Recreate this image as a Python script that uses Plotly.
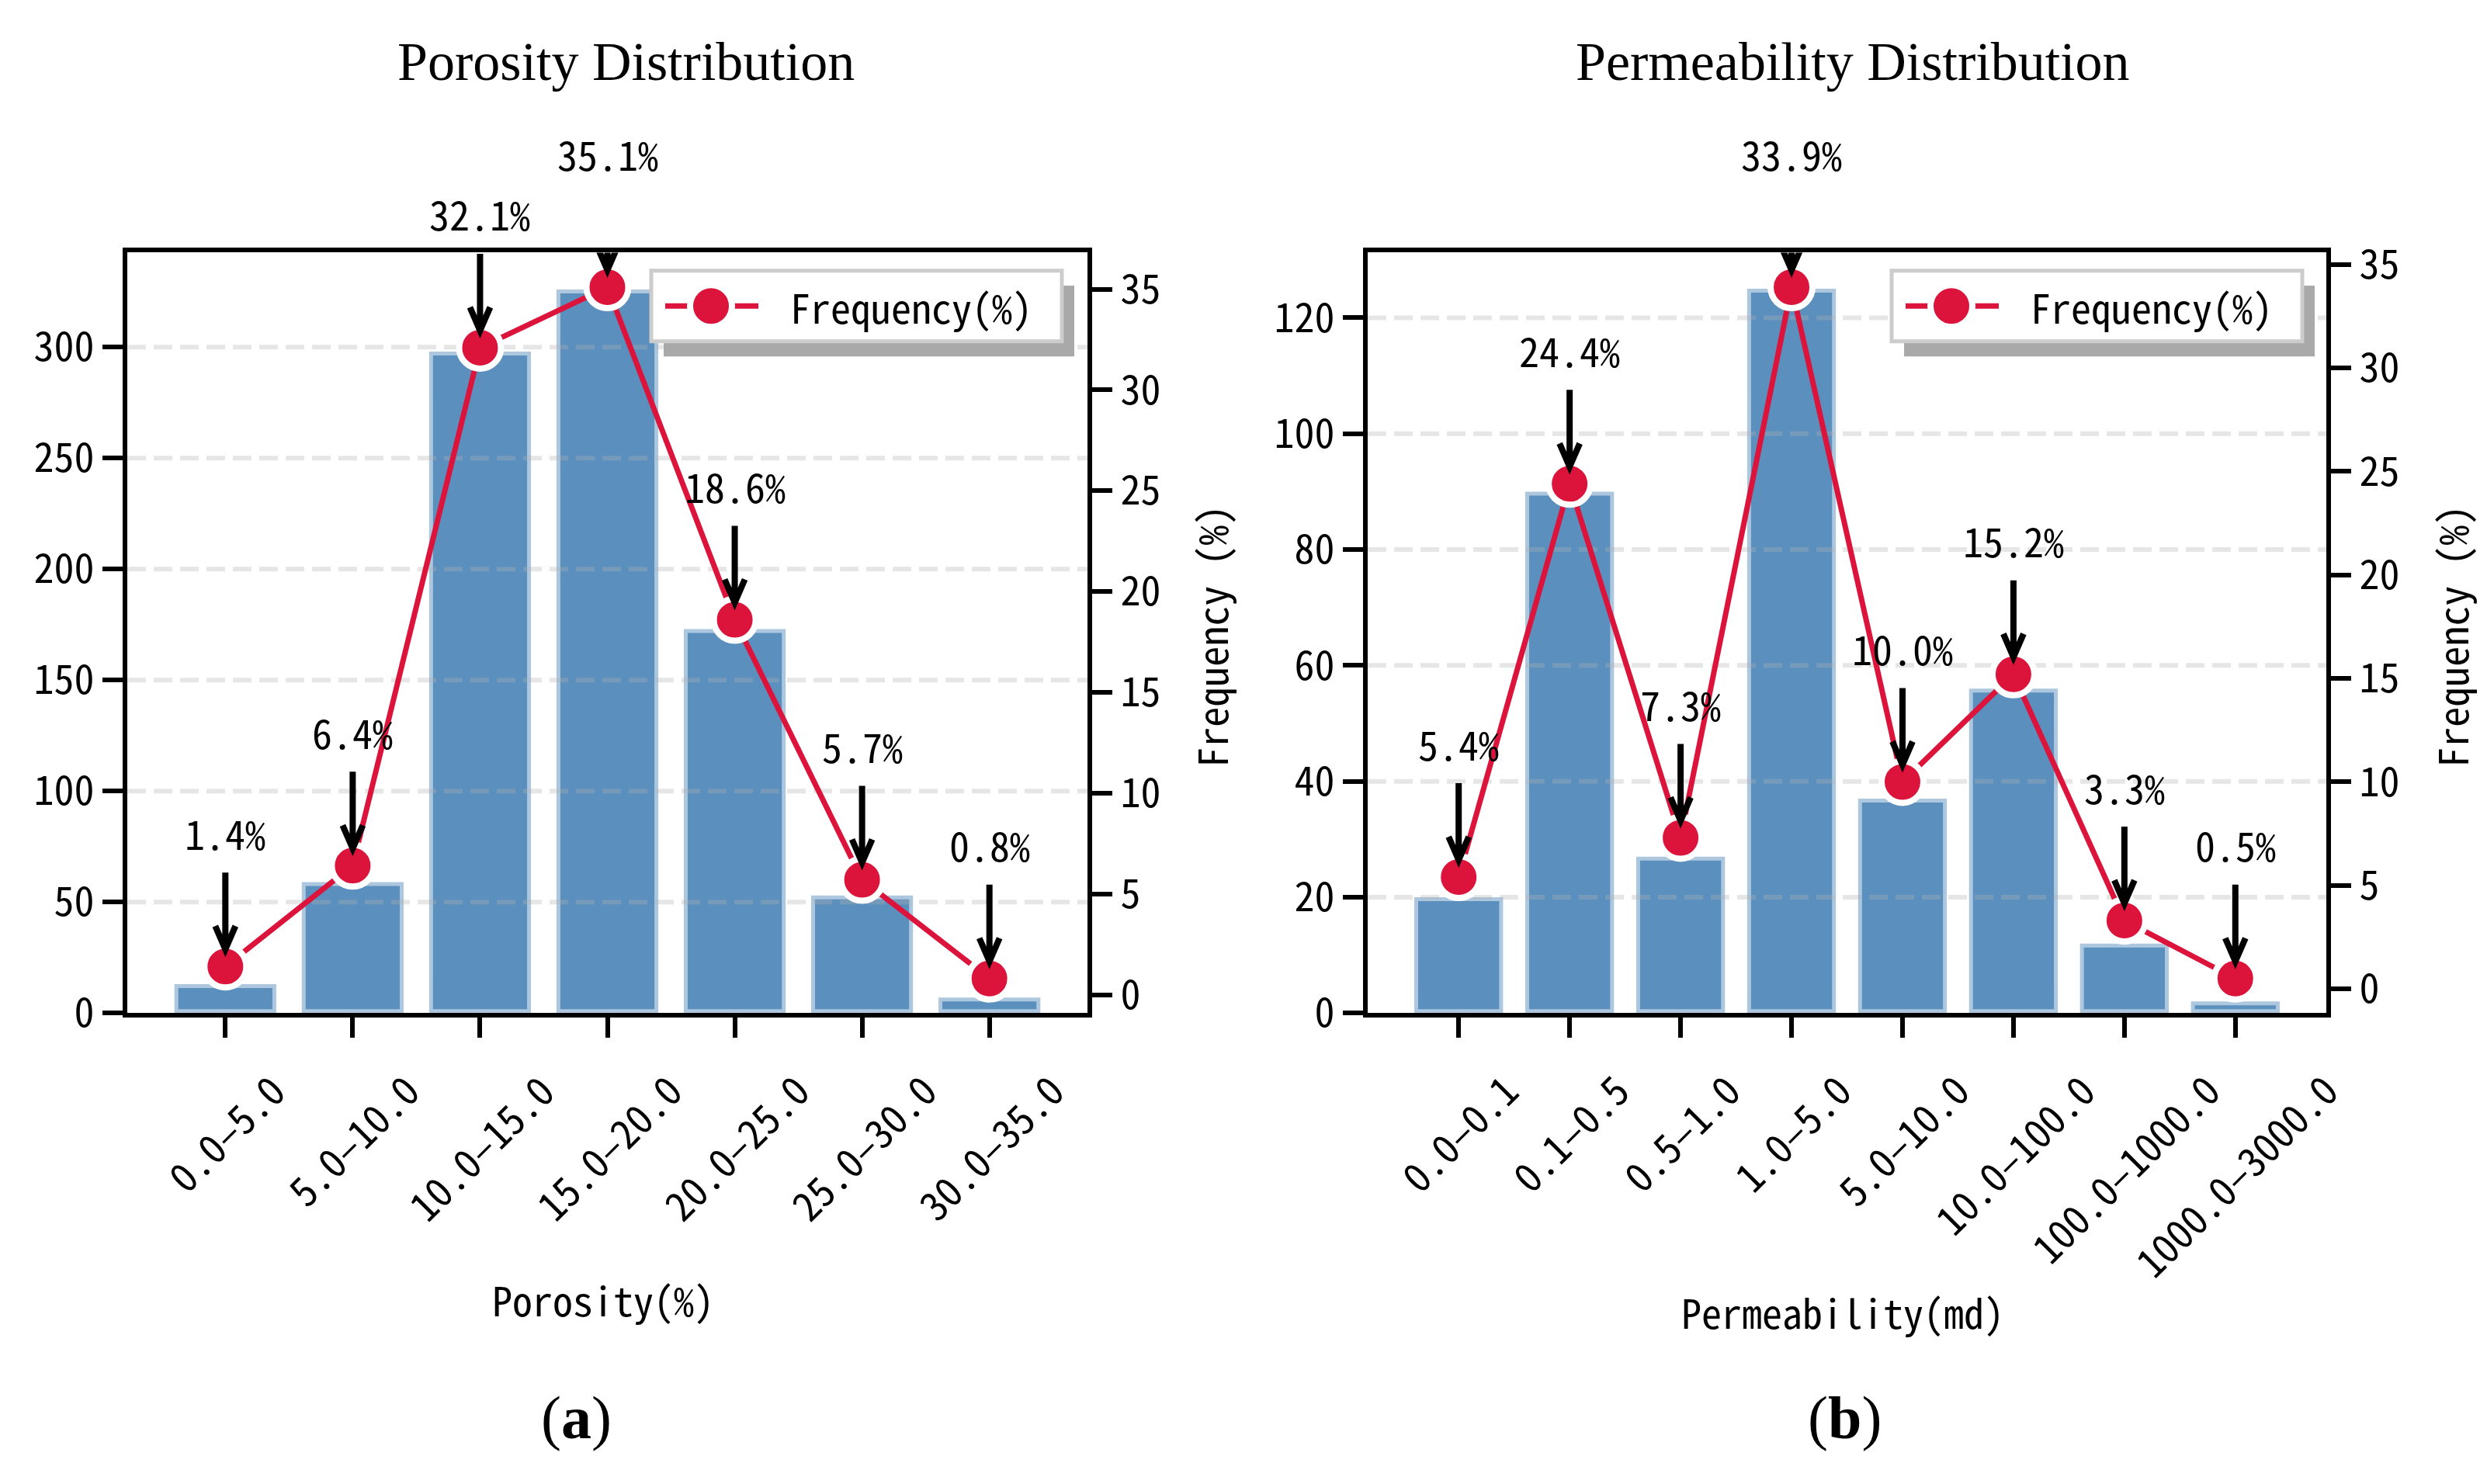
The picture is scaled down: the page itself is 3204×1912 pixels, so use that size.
import plotly.graph_objects as go

W, H = 3204, 1912

# ---- data ----
poro_bins = ["0.0–5.0", "5.0–10.0", "10.0–15.0", "15.0–20.0", "20.0–25.0", "25.0–30.0", "30.0–35.0"]
poro_count = [13, 59, 298, 326, 173, 53, 7]
poro_pct = [1.4, 6.4, 32.1, 35.1, 18.6, 5.7, 0.8]

perm_bins = ["0.0–0.1", "0.1–0.5", "0.5–1.0", "1.0–5.0", "5.0–10.0",
             "10.0–100.0", "100.0–1000.0", "1000.0–3000.0"]
perm_count = [20, 90, 27, 125, 37, 56, 12, 2]
perm_pct = [5.4, 24.4, 7.3, 33.9, 10.0, 15.2, 3.3, 0.5]

poro_count_ticks = [0, 50, 100, 150, 200, 250, 300]
perm_count_ticks = [0, 20, 40, 60, 80, 100, 120]
pct_ticks = [0, 5, 10, 15, 20, 25, 30, 35]

MONO = "Noto Sans Mono CJK SC, DejaVu Sans Mono, monospace"
SERIF = "Liberation Serif, Times New Roman, serif"
BAR = "#5b8fbe"
RED = "#dc143c"
FS = 52


def px(x):
    return x / W


def py(y):
    return 1 - y / H


panels = [
    dict(x="x", y="y", y2="y2", bins=poro_bins, count=poro_count, pct=poro_pct,
         cticks=poro_count_ticks, left=164, right=1401, xr=[-0.77, 6.77],
         yr=[0, 342.6], y2r=[-0.915, 36.815], shift=0,
         title="Porosity Distribution", tx=806, xlabel="Porosity(%)", xl=(777, 1700),
         tag="(<b>a</b>)", tagx=742),
    dict(x="x2", y="y3", y2="y4", bins=perm_bins, count=perm_count, pct=perm_pct,
         cticks=perm_count_ticks, left=1762, right=2997, xr=[-0.82, 7.82],
         yr=[0, 131.25], y2r=[-1.17, 35.57], shift=1598,
         title="Permeability Distribution", tx=2387, xlabel="Permeability(md)", xl=(2374, 1716),
         tag="(<b>b</b>)", tagx=2376),
]

TOP, BOTTOM = 309, 1320

fig = go.Figure()
annotations = []
shapes = []
layout = {}

axis_style = dict(showline=True, linecolor="black", linewidth=6, ticks="outside",
                  ticklen=26, tickwidth=6, tickcolor="black", showgrid=False,
                  zeroline=False, fixedrange=True,
                  tickfont=dict(family=MONO, size=FS, color="black"))

for k, p in enumerate(panels):
    n = len(p["bins"])
    idx = list(range(n))
    xa = "xaxis" if p["x"] == "x" else "xaxis" + p["x"][1:]
    ya = "yaxis" if p["y"] == "y" else "yaxis" + p["y"][1:]
    y2a = "yaxis" + p["y2"][1:]

    # bars (counts)
    fig.add_trace(go.Bar(x=idx, y=p["count"], width=0.8, xaxis=p["x"], yaxis=p["y"],
                         marker=dict(color=BAR, line=dict(color="rgba(255,255,255,0.5)", width=10)),
                         showlegend=False, hoverinfo="skip"))

    # dashed grid on top of the bars
    gx, gy = [], []
    for v in p["cticks"][1:]:
        gx += [p["xr"][0], p["xr"][1], None]
        gy += [v, v, None]
    fig.add_trace(go.Scatter(x=gx, y=gy, xaxis=p["x"], yaxis=p["y"], mode="lines",
                             line=dict(color="rgba(176,176,176,0.32)", width=6, dash="24px,10px"),
                             showlegend=False, hoverinfo="skip"))

    # frequency line
    fig.add_trace(go.Scatter(x=idx, y=p["pct"], xaxis=p["x"], yaxis=p["y2"],
                             mode="lines+markers", name="Frequency(%)",
                             line=dict(color=RED, width=7),
                             marker=dict(color=RED, size=54, line=dict(color="white", width=8)),
                             showlegend=False, hoverinfo="skip"))

    dom_x = [px(p["left"]), px(p["right"])]
    dom_y = [py(BOTTOM), py(TOP)]
    layout[xa] = dict(axis_style, domain=dom_x, range=p["xr"], anchor=p["y"],
                      tickvals=idx, showticklabels=False, mirror=True)
    layout[ya] = dict(axis_style, domain=dom_y, range=p["yr"], anchor=p["x"],
                      tickvals=p["cticks"])
    layout[y2a] = dict(axis_style, range=p["y2r"], anchor=p["x"], overlaying=p["y"],
                       side="right", tickvals=pct_ticks)

    # rotated category labels, centred on the ticks
    for i, lab in enumerate(p["bins"]):
        annotations.append(dict(x=i, xref=p["x"], y=py(1381), yref="paper", text=lab,
                                textangle=-45, xanchor="center", yanchor="top",
                                showarrow=False, font=dict(family=MONO, size=FS, color="black")))

    # percentage labels and arrows
    for i, v in enumerate(p["pct"]):
        annotations.append(dict(x=i, xref=p["x"], y=v, yref=p["y2"], text=f"{v:.1f}%",
                                yshift=173, xanchor="center", yanchor="middle",
                                showarrow=False, font=dict(family=MONO, size=FS, color="black")))
        shapes.append(dict(type="path", xref=p["x"], yref=p["y2"],
                           xsizemode="pixel", ysizemode="pixel", xanchor=i, yanchor=v,
                           path="M 0,121 L 0,23 M -13,52 L 0,22 L 13,52",
                           line=dict(color="black", width=8), layer="above"))

    # titles / axis labels
    annotations.append(dict(x=px(p["tx"]), y=py(55), xref="paper", yref="paper",
                            text=p["title"], showarrow=False, xanchor="center", yanchor="middle",
                            font=dict(family=SERIF, size=70, color="black")))
    annotations.append(dict(x=px(p["xl"][0]), y=py(p["xl"][1]), xref="paper", yref="paper",
                            text=p["xlabel"], showarrow=False, xanchor="center", yanchor="middle",
                            font=dict(family=MONO, size=FS, color="black")))
    annotations.append(dict(x=px(1560 + p["shift"]), y=py(819), xref="paper", yref="paper",
                            text="Frequency (%)", textangle=-90, showarrow=False,
                            xanchor="center", yanchor="middle",
                            font=dict(family=MONO, size=FS, color="black")))
    annotations.append(dict(x=px(p["tagx"]), y=py(1858), xref="paper", yref="paper",
                            text=p["tag"], showarrow=False, xanchor="center", yanchor="middle",
                            font=dict(family=SERIF, size=78, color="black")))

    # legend box with drop shadow
    s = p["shift"]
    shapes.append(dict(type="rect", xref="paper", yref="paper",
                       x0=px(839 + s + 16), x1=px(1368 + s + 16), y0=py(427 + 20), y1=py(333 + 20),
                       fillcolor="#a9a9a9", line=dict(width=0), layer="above"))
    shapes.append(dict(type="rect", xref="paper", yref="paper",
                       x0=px(839 + s), x1=px(1368 + s), y0=py(427), y1=py(333),
                       fillcolor="white", line=dict(color="#cccccc", width=5), layer="above"))
    shapes.append(dict(type="line", xref="paper", yref="paper",
                       x0=px(857 + s), x1=px(977 + s), y0=py(380), y1=py(380),
                       line=dict(color=RED, width=7), layer="above"))
    shapes.append(dict(type="circle", xref="paper", yref="paper",
                       xsizemode="pixel", ysizemode="pixel", xanchor=px(916 + s), yanchor=py(380),
                       x0=-27, x1=27, y0=-27, y1=27,
                       fillcolor=RED, line=dict(color="white", width=8), layer="above"))
    annotations.append(dict(x=px(1016 + s), y=py(380), xref="paper", yref="paper",
                            text="Frequency(%)", showarrow=False, xanchor="left", yanchor="middle",
                            font=dict(family=MONO, size=FS, color="black")))

fig.update_layout(
    width=W, height=H,
    margin=dict(l=0, r=0, t=0, b=0),
    paper_bgcolor="white", plot_bgcolor="white",
    showlegend=False,
    annotations=annotations, shapes=shapes,
    **layout,
)

fig.write_html("out.html", config={"displayModeBar": False},
               post_script="document.body.style.margin='0';")
